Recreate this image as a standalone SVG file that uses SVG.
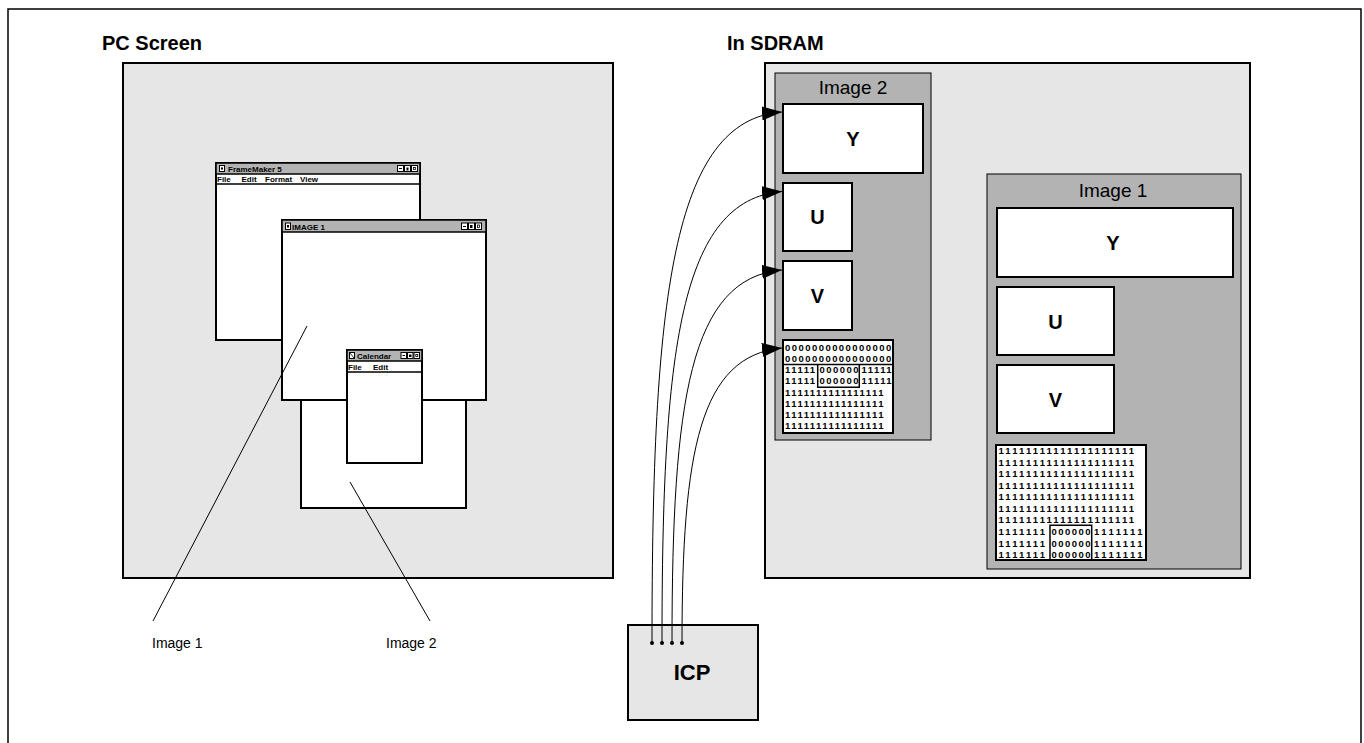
<svg xmlns="http://www.w3.org/2000/svg" width="1364" height="743" viewBox="0 0 1364 743">
<defs>
<style>
text{font-family:"Liberation Sans",Arial,sans-serif;fill:#000}
.frame{fill:#fff;stroke:#000;stroke-width:1.5}
.screen{fill:#e6e6e6;stroke:#000;stroke-width:2}
.grp{fill:#b3b3b3;stroke:#000;stroke-width:1}
.box{fill:#fff;stroke:#000;stroke-width:2}
.win{fill:#fff;stroke:#000;stroke-width:2}
.tbar{fill:#b3b3b3;stroke:#000;stroke-width:1.5}
.ico{fill:#fff;stroke:#000;stroke-width:1}
.ttl{font-size:8px;font-weight:bold}
.head{font-size:20px;font-weight:bold}
.lbl{font-size:19px}
.big{font-size:20px;font-weight:bold}
.bits{font-size:9.5px;font-weight:bold}
.cap{font-size:14px}
.conn{fill:none;stroke:#000;stroke-width:1}
.lead{fill:none;stroke:#000;stroke-width:1}
</style>
<marker id="ah" markerUnits="userSpaceOnUse" markerWidth="20" markerHeight="14" refX="20" refY="7" orient="auto">
<path d="M0,0 L20,7 L0,14 z" fill="#000"/>
</marker>
</defs>
<rect class="frame" x="8" y="9" width="1353" height="745"/>

<g id="pc-screen">
<text class="head" x="102" y="50">PC Screen</text>
<rect class="screen" x="123" y="63" width="490" height="515"/>
</g>

<g id="win-framemaker">
<rect class="win" x="216" y="163" width="204" height="177"/>
<rect class="tbar" x="216" y="163" width="204" height="11"/>
<line x1="216" y1="184" x2="420" y2="184" stroke="#000" stroke-width="1.5"/>
<rect class="ico" x="219.5" y="165.5" width="5" height="6"/>
<rect x="221" y="167.5" width="2" height="2" fill="#000"/>
<rect class="ico" x="397.5" y="165.5" width="6" height="6"/>
<rect class="ico" x="404.5" y="165.5" width="6" height="6"/>
<rect class="ico" x="411.5" y="165.5" width="6" height="6"/>
<line x1="399" y1="168.5" x2="402" y2="168.5" stroke="#000"/>
<rect x="406.5" y="167.5" width="2" height="3" fill="#000"/>
<rect x="413.5" y="167.5" width="2" height="2" fill="none" stroke="#000" stroke-width="0.8"/>
<text class="ttl" x="228" y="172">FrameMaker 5</text>
<text class="ttl" x="217" y="182">File</text>
<text class="ttl" x="241.5" y="182">Edit</text>
<text class="ttl" x="265" y="182">Format</text>
<text class="ttl" x="300" y="182">View</text>
</g>

<g id="win-image2">
<rect class="win" x="301" y="300" width="165" height="208"/>
</g>

<g id="win-image1">
<rect class="win" x="282" y="220" width="204" height="180"/>
<rect class="tbar" x="282" y="220" width="204" height="12"/>
<rect class="ico" x="285.5" y="223" width="5" height="6.5"/>
<rect x="287" y="225" width="2" height="2.5" fill="#000"/>
<rect class="ico" x="461.5" y="223" width="6" height="6.5"/>
<rect class="ico" x="468.5" y="223" width="6" height="6.5"/>
<rect class="ico" x="475.5" y="223" width="6" height="6.5"/>
<line x1="463" y1="226.5" x2="466" y2="226.5" stroke="#000"/>
<rect x="470" y="225" width="2.5" height="3" fill="#000"/>
<rect x="477.5" y="225" width="2" height="2.5" fill="none" stroke="#000" stroke-width="0.8"/>
<text class="ttl" x="292" y="230">IMAGE 1</text>
</g>

<g id="win-calendar">
<rect class="win" x="347" y="350" width="75" height="113"/>
<rect class="tbar" x="347" y="350" width="75" height="11"/>
<line x1="347" y1="372" x2="422" y2="372" stroke="#000" stroke-width="1.5"/>
<rect class="ico" x="349.5" y="352.5" width="5" height="6"/>
<line x1="350" y1="353" x2="354" y2="358" stroke="#000" stroke-width="0.8"/>
<rect class="ico" x="401" y="352.5" width="5.5" height="6"/>
<rect class="ico" x="407.5" y="352.5" width="5.5" height="6"/>
<rect class="ico" x="414" y="352.5" width="5.5" height="6"/>
<line x1="402.5" y1="355.5" x2="405" y2="355.5" stroke="#000"/>
<rect x="409" y="354.5" width="2.5" height="2.5" fill="#000"/>
<rect x="415.8" y="354.5" width="2" height="2" fill="none" stroke="#000" stroke-width="0.8"/>
<text class="ttl" x="357" y="359">Calendar</text>
<text class="ttl" x="348" y="369.5">File</text>
<text class="ttl" x="373" y="369.5">Edit</text>
</g>

<g id="label-image1">
<line class="lead" x1="307" y1="326" x2="153" y2="621"/>
<text class="cap" x="152" y="648">Image 1</text>
</g>
<g id="label-image2">
<line class="lead" x1="350" y1="482" x2="430" y2="621"/>
<text class="cap" x="386" y="648">Image 2</text>
</g>

<g id="sdram">
<text class="head" x="727" y="50">In SDRAM</text>
<rect class="screen" x="765" y="63" width="485" height="515"/>
</g>

<g id="sdram-image2">
<rect class="grp" x="775" y="73" width="156" height="367"/>
<text class="lbl" x="853" y="94" text-anchor="middle">Image 2</text>
<rect class="box" x="783" y="104" width="140" height="69"/>
<text class="big" x="853" y="146" text-anchor="middle">Y</text>
<rect class="box" x="783" y="183" width="69" height="68"/>
<text class="big" x="817.5" y="224" text-anchor="middle">U</text>
<rect class="box" x="783" y="261" width="69" height="69"/>
<text class="big" x="817.5" y="303" text-anchor="middle">V</text>
<rect class="box" x="783" y="340" width="110" height="93"/>
<path d="M783,364.5 H893 M817.7,364.5 V387.3 H859.3 V364.5" fill="none" stroke="#000" stroke-width="1.5"/>
<g class="bits" letter-spacing="1.45">
<text x="785" y="350.7">0000000000000000</text>
<text x="785" y="361.9">0000000000000000</text>
<text x="785" y="373.1">11111<tspan x="819.5">000000</tspan><tspan x="861.5">11111</tspan></text>
<text x="785" y="384.3">11111<tspan x="819.5">000000</tspan><tspan x="861.5">11111</tspan></text>
<text x="785" y="395.5">1111111111111111</text>
<text x="785" y="406.6">1111111111111111</text>
<text x="785" y="417.8">1111111111111111</text>
<text x="785" y="429">1111111111111111</text>
</g>
</g>

<g id="sdram-image1">
<rect class="grp" x="987" y="174" width="254" height="395"/>
<text class="lbl" x="1113" y="197" text-anchor="middle">Image 1</text>
<rect class="box" x="997" y="208" width="236" height="69"/>
<text class="big" x="1113" y="250" text-anchor="middle">Y</text>
<rect class="box" x="997" y="287" width="117" height="68"/>
<text class="big" x="1055.5" y="329" text-anchor="middle">U</text>
<rect class="box" x="997" y="365" width="117" height="68"/>
<text class="big" x="1055.5" y="407" text-anchor="middle">V</text>
<rect class="box" x="996" y="445" width="150" height="115"/>
<path d="M1050,560 V525.3 H1091.7 V560" fill="none" stroke="#000" stroke-width="1.5"/>
<g class="bits" letter-spacing="2.1">
<text x="998.5" y="454">11111111111111111111</text>
<text x="998.5" y="465.6">11111111111111111111</text>
<text x="998.5" y="477.1">11111111111111111111</text>
<text x="998.5" y="488.7">11111111111111111111</text>
<text x="998.5" y="500.2">11111111111111111111</text>
<text x="998.5" y="511.8">11111111111111111111</text>
<text x="998.5" y="523.4">11111111111111111111</text>
<text x="998.5" y="534.9">1111111<tspan x="1051.5" letter-spacing="1.45">000000</tspan><tspan x="1094" letter-spacing="2.45">1111111</tspan></text>
<text x="998.5" y="546.5">1111111<tspan x="1051.5" letter-spacing="1.45">000000</tspan><tspan x="1094" letter-spacing="2.45">1111111</tspan></text>
<text x="998.5" y="558">1111111<tspan x="1051.5" letter-spacing="1.45">000000</tspan><tspan x="1094" letter-spacing="2.45">1111111</tspan></text>
</g>
</g>

<g id="icp">
<rect class="screen" x="628" y="625" width="130" height="95" stroke-width="1.5"/>
<text x="692" y="680" text-anchor="middle" style="font-size:22px;font-weight:bold">ICP</text>
</g>

<g id="connectors">
<path class="conn" d="M652,643 C652,300 672,120 782,112" marker-end="url(#ah)"/>
<path class="conn" d="M662,643 C662,350 680,200 782,191.5" marker-end="url(#ah)"/>
<path class="conn" d="M672,643 C672,400 690,278 782,270" marker-end="url(#ah)"/>
<path class="conn" d="M682,643 C682,450 700,356 782,348" marker-end="url(#ah)"/>
<circle cx="652" cy="643" r="2"/>
<circle cx="662" cy="643" r="2"/>
<circle cx="672" cy="643" r="2"/>
<circle cx="682" cy="643" r="2"/>
</g>
</svg>
